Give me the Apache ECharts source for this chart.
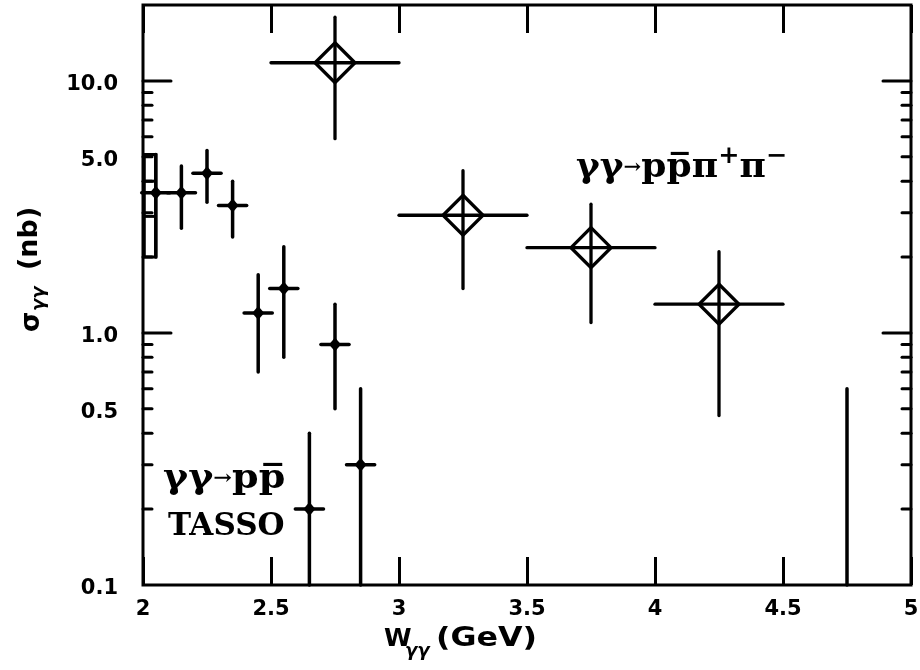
<!DOCTYPE html>
<html><head><meta charset="utf-8">
<script src="https://cdn.jsdelivr.net/npm/echarts@6/dist/echarts.min.js"></script>
<style>html,body{margin:0;padding:0;background:#fff}#c{width:920px;height:670px}</style>
</head><body><div id="c"></div>
<script>
// ---- axis ranges and ticks ----
const X_MIN = 2, X_MAX = 5, X_STEP = 0.5;
const Y_MIN = 0.1, Y_MAX = 20;
const yLabelValues = [0.1, 0.5, 1, 5, 10];
const yMajorTicks = [1, 10];
const yMinorTicks = [0.2, 0.3, 0.4, 0.5, 0.6, 0.7, 0.8, 0.9, 2, 3, 4, 5, 6, 7, 8, 9];

// ---- TASSO gamma gamma -> p pbar ----
const tassoW     = [2.05, 2.15, 2.25, 2.35, 2.45, 2.55, 2.65, 2.75, 2.85];
const tassoSigma = [3.6, 3.6, 4.3, 3.2, 1.2, 1.5, 0.2, 0.9, 0.3];
const tassoLow   = [2.0, 2.6, 3.3, 2.4, 0.7, 0.8, 0.1, 0.5, 0.1];
const tassoHigh  = [5.1, 4.6, 5.3, 4.0, 1.7, 2.2, 0.4, 1.3, 0.6];
const tassoHalfBin = 0.055;
// box around first bin
const boxW = [2.005, 2.05];
const boxSigma = [2.0, 5.1];
const boxInnerSigma = [4.0, 2.9];
// upper-limit bar
const limitW = [4.75];
const limitLow = [0.1];
const limitHigh = [0.6];

// ---- gamma gamma -> p pbar pi+ pi- ----
const pipiW      = [2.75, 3.25, 3.75, 4.25];
const pipiWLow   = [2.5, 3.0, 3.5, 4.0];
const pipiWHigh  = [3.0, 3.5, 4.0, 4.5];
const pipiSigma  = [11.8, 2.93, 2.18, 1.30];
const pipiLow    = [5.9, 1.5, 1.1, 0.47];
const pipiHigh   = [17.9, 4.4, 3.24, 2.1];

const SANS = '"DejaVu Sans", sans-serif';
const SERIF = '"DejaVu Serif", serif';

const tassoData = tassoW.map((w, i) => [w, tassoSigma[i], w - tassoHalfBin, w + tassoHalfBin, tassoLow[i], tassoHigh[i]]);
const pipiData = pipiW.map((w, i) => [w, pipiSigma[i], pipiWLow[i], pipiWHigh[i], pipiLow[i], pipiHigh[i]]);
const limitData = limitW.map((w, i) => [w, limitLow[i], limitHigh[i]]);

function errRender(lw) {
  return function (params, api) {
    const c = api.coord([api.value(0), api.value(1)]);
    const l = api.coord([api.value(2), api.value(1)]);
    const r = api.coord([api.value(3), api.value(1)]);
    const lo = api.coord([api.value(0), api.value(4)]);
    const hi = api.coord([api.value(0), api.value(5)]);
    const st = { stroke: '#000', lineWidth: lw, lineCap: 'round' };
    return { type: 'group', children: [
      { type: 'line', shape: { x1: l[0], y1: c[1], x2: r[0], y2: c[1] }, style: st },
      { type: 'line', shape: { x1: c[0], y1: lo[1], x2: c[0], y2: hi[1] }, style: st }
    ]};
  };
}

function tickRender(len) {
  return function (params, api) {
    const cs = params.coordSys;
    const y = api.coord([X_MIN, api.value(1)])[1];
    const st = { stroke: '#000', lineWidth: 3, lineCap: 'round' };
    return { type: 'group', children: [
      { type: 'line', shape: { x1: cs.x, y1: y, x2: cs.x + len, y2: y }, style: st },
      { type: 'line', shape: { x1: cs.x + cs.width, y1: y, x2: cs.x + cs.width - len, y2: y }, style: st }
    ]};
  };
}

const option = {
  animation: false,
  backgroundColor: '#fff',
  grid: { left: 143, right: 9, top: 5, bottom: 85, show: true, borderColor: '#000', borderWidth: 3, containLabel: false, outerBoundsMode: 'none' },
  xAxis: [{
    type: 'value', min: X_MIN, max: X_MAX, interval: X_STEP,
    axisLine: { show: false }, splitLine: { show: false },
    axisTick: { inside: true, length: 28, lineStyle: { color: '#000', width: 3 } },
    axisLabel: { color: '#000', fontFamily: SANS, fontWeight: 'bold', fontSize: 21, margin: 14, showMinLabel: true, showMaxLabel: true }
  }, {
    type: 'value', position: 'top', min: X_MIN, max: X_MAX, interval: X_STEP,
    axisLine: { show: false }, splitLine: { show: false },
    axisTick: { inside: true, length: 28, lineStyle: { color: '#000', width: 3 } },
    axisLabel: { show: false }
  }],
  yAxis: {
    type: 'log', logBase: 10, min: Y_MIN, max: Y_MAX,
    axisLine: { show: false }, splitLine: { show: false }, axisTick: { show: false }, axisLabel: { show: false }
  },
  series: [
    { type: 'custom', renderItem: tickRender(28), data: yMajorTicks.map(v => [X_MIN, v]), silent: true, z: 5 },
    { type: 'custom', renderItem: tickRender(9), data: yMinorTicks.map(v => [X_MIN, v]), silent: true, z: 5 },
    { type: 'custom', clip: false, silent: true, data: yLabelValues.map(v => [X_MIN, v]),
      renderItem: function (params, api) {
        const cs = params.coordSys;
        const y = api.coord([X_MIN, api.value(1)])[1];
        return { type: 'text', x: cs.x - 25, y: y + 4, style: {
          text: api.value(1).toFixed(1), align: 'right', verticalAlign: 'middle',
          fontFamily: SANS, fontWeight: 'bold', fontSize: 21, fill: '#000' } };
      } },
    // box around first TASSO bin
    { type: 'custom', silent: true, data: [[boxW[0], boxSigma[0], boxW[1], boxSigma[1]]],
      renderItem: function (params, api) {
        const a = api.coord([api.value(0), api.value(1)]);
        const b = api.coord([api.value(2), api.value(3)]);
        const st = { stroke: '#000', lineWidth: 3, fill: null };
        const kids = [{ type: 'rect', shape: { x: a[0], y: b[1], width: b[0] - a[0], height: a[1] - b[1] }, style: st }];
        boxInnerSigma.forEach(s => {
          const p = api.coord([api.value(0), s]);
          kids.push({ type: 'line', shape: { x1: a[0], y1: p[1], x2: b[0], y2: p[1] }, style: { stroke: '#000', lineWidth: 3 } });
        });
        return { type: 'group', children: kids };
      } },
    { type: 'custom', renderItem: errRender(3.5), data: tassoData, silent: true },
    { type: 'custom', silent: true, data: limitData,
      renderItem: function (params, api) {
        const lo = api.coord([api.value(0), api.value(1)]);
        const hi = api.coord([api.value(0), api.value(2)]);
        return { type: 'line', shape: { x1: lo[0], y1: lo[1], x2: hi[0], y2: hi[1] }, style: { stroke: '#000', lineWidth: 3.5, lineCap: 'round' } };
      } },
    { type: 'custom', renderItem: errRender(3.3), data: pipiData, silent: true },
    { type: 'scatter', data: tassoW.map((w, i) => [w, tassoSigma[i]]), symbol: 'diamond', symbolSize: [12, 14],
      itemStyle: { color: '#000', opacity: 1 }, silent: true, z: 6 },
    { type: 'scatter', data: pipiW.map((w, i) => [w, pipiSigma[i]]), symbol: 'diamond', symbolSize: [40, 40],
      itemStyle: { color: 'rgba(0,0,0,0)', borderColor: '#000', borderWidth: 3.3, opacity: 1 }, silent: true, z: 6 }
  ],
  graphic: [
    // x axis title
    { type: 'text', x: 384, y: 627, style: { text: 'W', fontFamily: SANS, fontWeight: 'bold', fontSize: 25, fill: '#000', verticalAlign: 'top' } },
    { type: 'text', x: 405, y: 642, style: { text: 'γγ', fontFamily: SANS, fontWeight: 'bold', fontStyle: 'italic', fontSize: 18, fill: '#000', verticalAlign: 'top' } },
    { type: 'text', x: 436, y: 626, scaleX: 1.22, style: { text: '(GeV)', fontFamily: SANS, fontWeight: 'bold', fontSize: 26, fill: '#000', verticalAlign: 'top' } },
    // y axis title (rotated)
    { type: 'group', x: 32, y: 332, rotation: Math.PI / 2, children: [
      { type: 'text', x: 0, y: 0, style: { text: 'σ', fontFamily: SANS, fontWeight: 'bold', fontSize: 26, fill: '#000', verticalAlign: 'middle', align: 'left' } },
      { type: 'text', x: 21, y: 7, style: { text: 'γγ', fontFamily: SANS, fontWeight: 'bold', fontStyle: 'italic', fontSize: 18, fill: '#000', verticalAlign: 'middle', align: 'left' } },
      { type: 'text', x: 62, y: -2, style: { text: '(nb)', fontFamily: SANS, fontWeight: 'bold', fontSize: 27, fill: '#000', verticalAlign: 'middle', align: 'left' } }
    ] },
    // annotations
    { type: 'text', x: 576, y: 145, scaleX: 1.06, style: {
      text: '{m|γγ}{a|→}{m|pp\u0305π}{s|+}{m|π}{s|−}', verticalAlign: 'top',
      rich: {
        m: { fontFamily: SERIF, fontWeight: 'bold', fontSize: 34, lineHeight: 46, fill: '#000' },
        a: { fontFamily: SERIF, fontWeight: 'bold', fontSize: 20, lineHeight: 46, fill: '#000' },
        s: { fontFamily: SERIF, fontWeight: 'bold', fontSize: 24, lineHeight: 24, verticalAlign: 'top', fill: '#000' }
      } } },
    { type: 'text', x: 163, y: 456, scaleX: 1.12, style: {
      text: '{m|γγ}{a|→}{m|pp\u0305}', verticalAlign: 'top',
      rich: {
        m: { fontFamily: SERIF, fontWeight: 'bold', fontSize: 34, lineHeight: 46, fill: '#000' },
        a: { fontFamily: SERIF, fontWeight: 'bold', fontSize: 20, lineHeight: 46, fill: '#000' }
      } } },
    { type: 'text', x: 168, y: 511, style: { text: 'TASSO', fontFamily: SERIF, fontWeight: 'bold', fontSize: 31, fill: '#000', verticalAlign: 'top' } }
  ]
};
const chart = echarts.init(document.getElementById('c'));
chart.setOption(option);
</script></body></html>
